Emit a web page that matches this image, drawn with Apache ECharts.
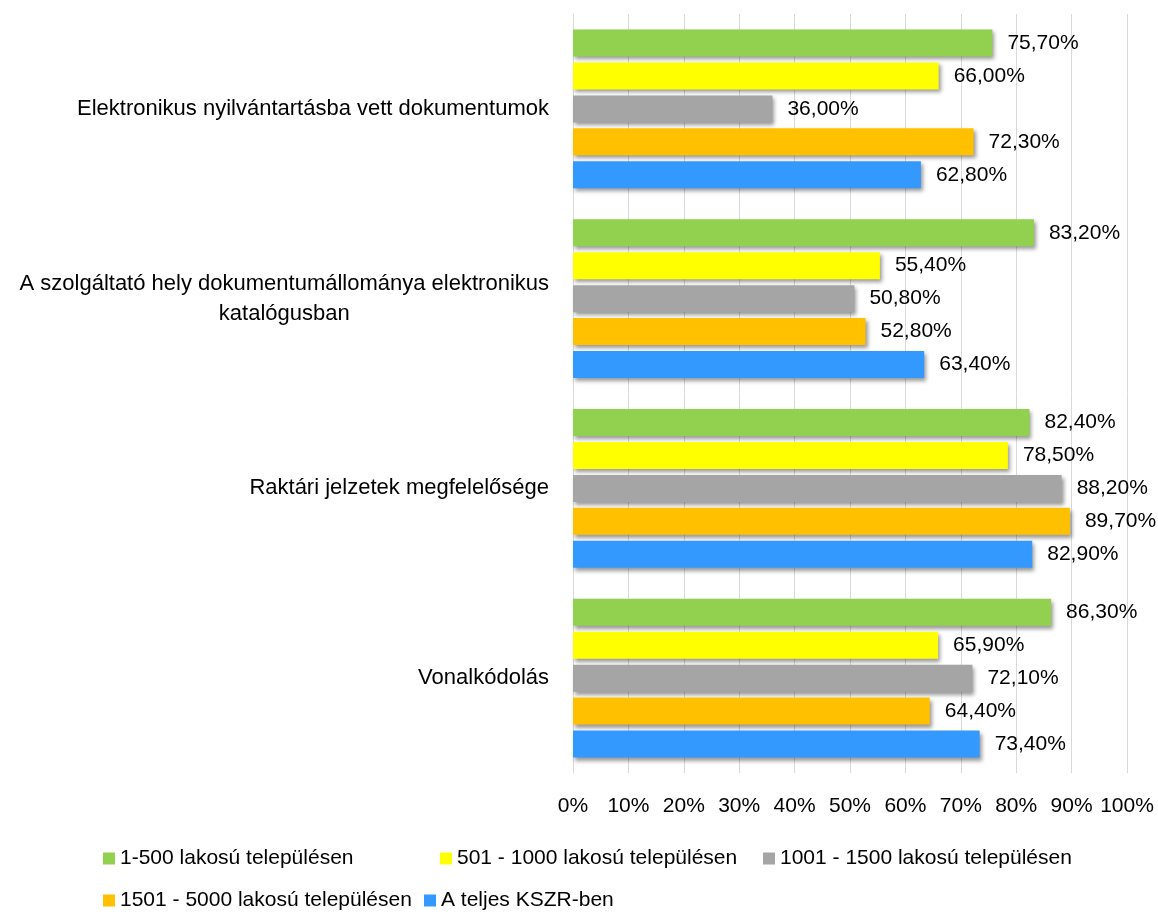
<!DOCTYPE html>
<html>
<head>
<meta charset="utf-8">
<script src="https://cdn.jsdelivr.net/npm/echarts@6/dist/echarts.min.js"></script>
<style>html,body{margin:0;padding:0;background:#fff}#c{width:1158px;height:915px}</style>
</head>
<body>
<div id="c"></div>
<script>
const categories = [
  'Elektronikus nyilvántartásba vett dokumentumok',
  'A szolgáltató hely dokumentumállománya elektronikus\nkatalógusban',
  'Raktári jelzetek megfelelősége',
  'Vonalkódolás'
];
const seriesNames = [
  '1-500 lakosú településen',
  '501 - 1000 lakosú településen',
  '1001 - 1500 lakosú településen',
  '1501 - 5000 lakosú településen',
  'A teljes KSZR-ben'
];
const s1 = [75.7, 83.2, 82.4, 86.3];
const s2 = [66.0, 55.4, 78.5, 65.9];
const s3 = [36.0, 50.8, 88.2, 72.1];
const s4 = [72.3, 52.8, 89.7, 64.4];
const s5 = [62.8, 63.4, 82.9, 73.4];
const seriesValues = [s1, s2, s3, s4, s5];
const colors = ['#92D050', '#FFFF00', '#A5A5A5', '#FFC000', '#3399FF'];
const xTicks = [0, 10, 20, 30, 40, 50, 60, 70, 80, 90, 100];

const FONT = 'Liberation Sans';
const FS = 22;
const FS2 = 21;

const legendPos = [
  {left: 103, top: 848},
  {left: 440, top: 848},
  {left: 763, top: 848},
  {left: 103, top: 890},
  {left: 424, top: 890}
];

const chart = echarts.init(document.getElementById('c'));
chart.setOption({
  animation: false,
  textStyle: {fontFamily: FONT},
  grid: {left: 573, right: 31, top: 14, bottom: 142, containLabel: false},
  legend: seriesNames.map((n, i) => ({
    data: [n],
    left: legendPos[i].left,
    top: legendPos[i].top,
    padding: 0,
    icon: 'rect',
    itemWidth: 12,
    itemHeight: 12,
    itemGap: 6,
    textStyle: {fontFamily: FONT, fontSize: FS2, color: '#000', padding: [0, 0, 0, 0]},
    selectedMode: false
  })),
  xAxis: {
    type: 'value',
    min: 0, max: 100, interval: 10,
    axisLine: {show: false},
    axisTick: {show: false},
    splitLine: {show: true, lineStyle: {color: '#D9D9D9', width: 1}},
    axisLabel: {
      formatter: v => xTicks.includes(v) ? v + '%' : '',
      fontFamily: FONT, fontSize: FS2, color: '#000', margin: 23
    }
  },
  yAxis: {
    type: 'category',
    data: categories,
    inverse: true,
    axisLine: {show: true, lineStyle: {color: '#D9D9D9'}},
    axisTick: {show: false},
    axisLabel: {
      margin: 24,
      align: 'right',
      formatter: v => v.split('\n').map(l => '{a|' + l + '}').join('\n'),
      rich: {a: {align: 'center', fontFamily: FONT, fontSize: FS, color: '#000', lineHeight: 30}}
    }
  },
  series: seriesValues.map((vals, i) => ({
    name: seriesNames[i],
    type: 'bar',
    data: vals,
    barWidth: 27,
    barGap: '22%',
    itemStyle: {
      color: colors[i],
      shadowBlur: 4,
      shadowOffsetX: 2,
      shadowOffsetY: 3,
      shadowColor: 'rgba(0,0,0,0.4)'
    },
    label: {
      show: true,
      position: 'right',
      distance: 15,
      fontFamily: FONT,
      fontSize: FS2,
      color: '#000',
      formatter: p => p.value.toFixed(2).replace('.', ',') + '%'
    }
  }))
});
</script>
</body>
</html>
